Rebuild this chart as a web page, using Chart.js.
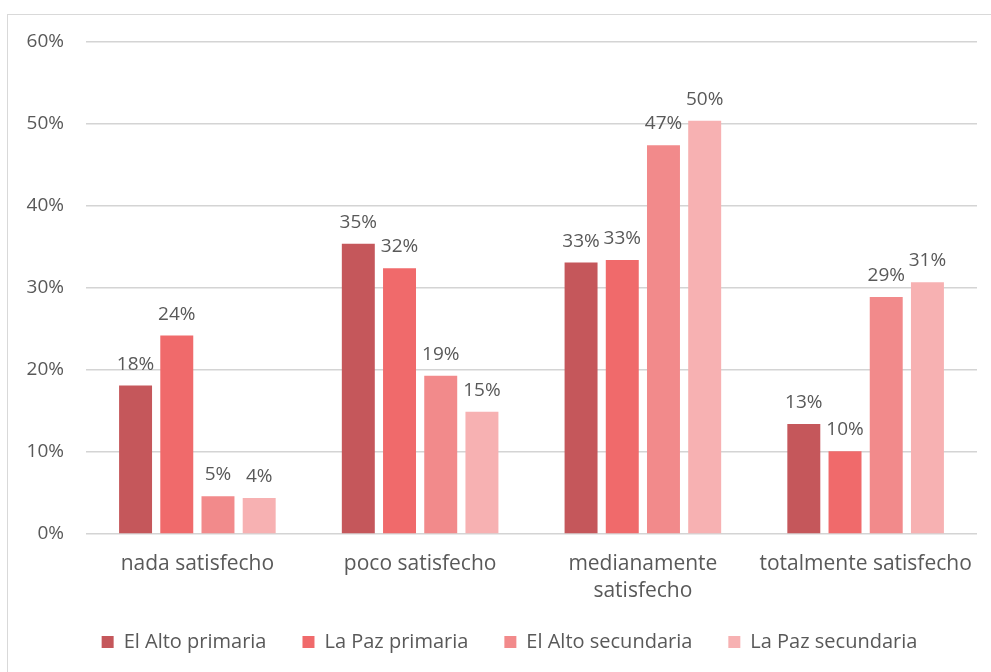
<!DOCTYPE html>
<html>
<head>
<meta charset="utf-8">
<script src="https://cdn.jsdelivr.net/npm/chart.js@4.4.1/dist/chart.umd.min.js"></script>
<style>
  html, body { margin: 0; padding: 0; background: #fff; }
  #wrap { position: relative; width: 991px; height: 672px; }
  #frame {
    position: absolute; left: 7px; top: 14px; right: 0; bottom: -2px;
    border-left: 1px solid #d9d9d9; border-top: 1px solid #d9d9d9;
  }
  canvas { position: absolute; left: 0; top: 0; }
</style>
</head>
<body>
<div id="wrap">
  <div id="frame"></div>
  <canvas id="myChart" width="991" height="672"></canvas>
</div>
<script>
// categorías y series (porcentajes)
const categorias = ["nada satisfecho", "poco satisfecho", ["medianamente", "satisfecho"], "totalmente satisfecho"];
const elAltoPrimaria = [18.1, 35.4, 33.1, 13.4];
const laPazPrimaria = [24.2, 32.4, 33.4, 10.1];
const elAltoSecundaria = [4.6, 19.3, 47.4, 28.9];
const laPazSecundaria = [4.4, 14.9, 50.4, 30.7];
const ticksY = [0, 10, 20, 30, 40, 50, 60];

const fuente = "'Open Sans', sans-serif";
const gris = "#595959";

// etiquetas de valor encima de cada barra
const etiquetasValor = {
  id: "etiquetasValor",
  afterDatasetsDraw(chart) {
    const ctx = chart.ctx;
    ctx.save();
    ctx.font = "19px " + fuente;
    ctx.fillStyle = gris;
    ctx.textAlign = "center";
    ctx.textBaseline = "alphabetic";
    chart.data.datasets.forEach((ds, i) => {
      const meta = chart.getDatasetMeta(i);
      meta.data.forEach((bar, j) => {
        ctx.fillText(Math.round(ds.data[j]) + "%", bar.x, bar.y - 16);
      });
    });
    ctx.restore();
  },
};

// mueve la leyenda un poco (a la derecha y hacia arriba)
const moverLeyenda = {
  id: "moverLeyenda",
  afterLayout(chart) {
    const lg = chart.legend;
    lg.left += 16;
    lg.right += 16;
    lg.top -= 10;
    lg.bottom -= 10;
  },
};

const ctx = document.getElementById("myChart").getContext("2d");
const myChart = new Chart(ctx, {
  type: "bar",
  data: {
    labels: categorias,
    datasets: [
      { label: "El Alto primaria", data: elAltoPrimaria, backgroundColor: "#C5575B" },
      { label: "La Paz primaria", data: laPazPrimaria, backgroundColor: "#F06A6B" },
      { label: "El Alto secundaria", data: elAltoSecundaria, backgroundColor: "#F28A8B" },
      { label: "La Paz secundaria", data: laPazSecundaria, backgroundColor: "#F7B1B2" },
    ],
  },
  options: {
    responsive: false,
    animation: false,
    layout: { padding: { left: 10, right: 14, top: 42, bottom: 0 } },
    datasets: {
      bar: { categoryPercentage: 0.74, barPercentage: 0.8 },
    },
    scales: {
      x: {
        grid: { display: false },
        border: { display: false },
        ticks: {
          color: gris,
          font: { family: fuente, size: 21, lineHeight: 1.3 },
          padding: 8,
          maxRotation: 0,
        },
        afterFit(scale) { scale.height = 72; },
      },
      y: {
        min: 0,
        max: 60,
        afterBuildTicks(scale) { scale.ticks = ticksY.map((v) => ({ value: v })); },
        grid: { color: "#d4d4d4", lineWidth: 1.5, drawTicks: false },
        border: { display: false },
        ticks: {
          color: gris,
          font: { family: fuente, size: 19 },
          padding: 22,
          callback: (v) => v + "%",
        },
        afterFit(scale) { scale.width = 76; },
      },
    },
    plugins: {
      legend: {
        position: "bottom",
        labels: {
          color: gris,
          font: { family: fuente, size: 20 },
          boxWidth: 12,
          boxHeight: 12,
          padding: 36,
        },
      },
      tooltip: { enabled: false },
    },
  },
  plugins: [etiquetasValor, moverLeyenda],
});
</script>
</body>
</html>
